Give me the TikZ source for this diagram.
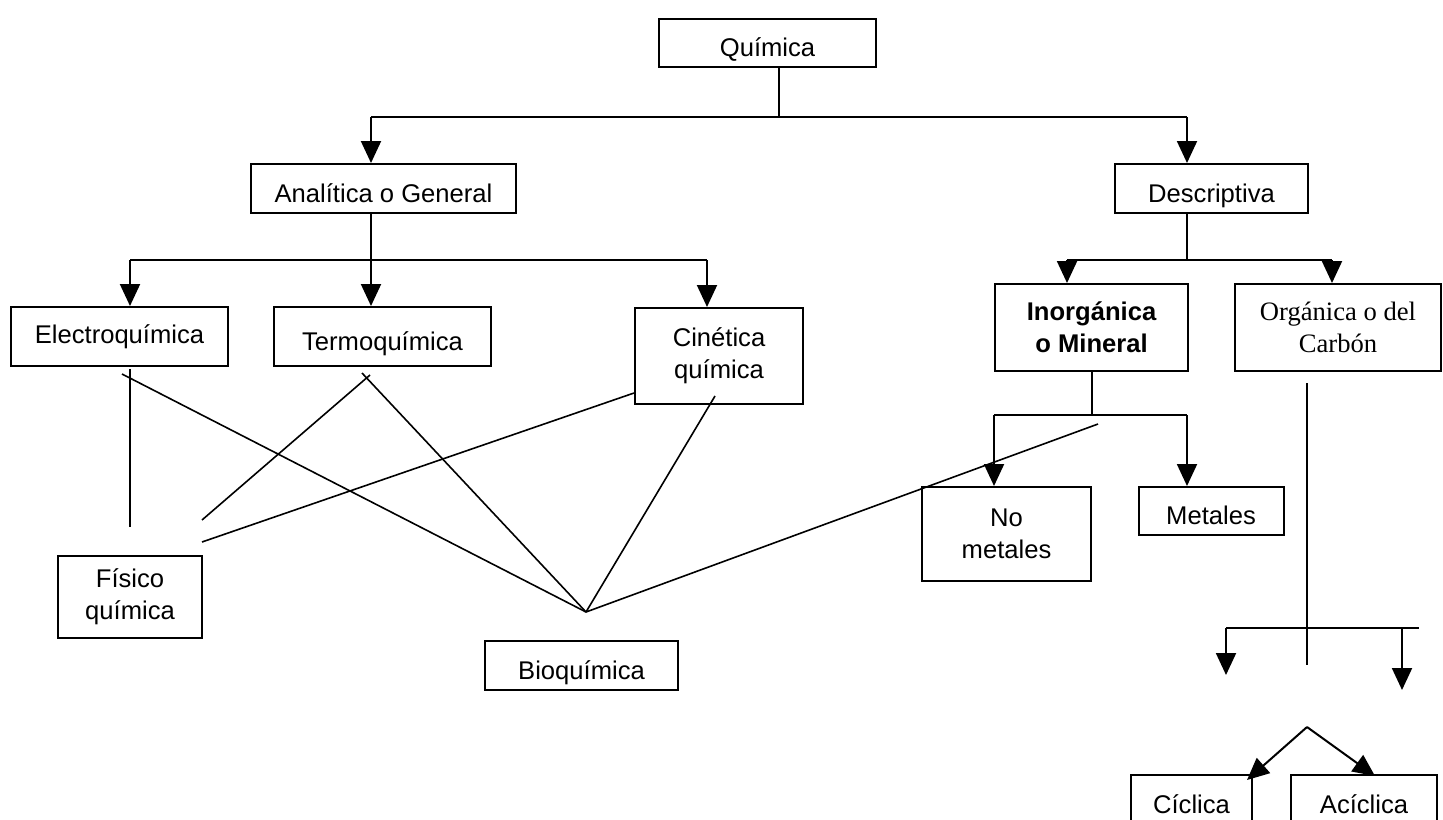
\documentclass[tikz,border=0pt]{standalone}
\usepackage{fontspec}
\setmainfont{Liberation Sans}
\newfontfamily\romana{Liberation Serif}
\usetikzlibrary{arrows.meta}

\begin{document}
\begin{tikzpicture}[x=0.5pt,y=-0.5pt,line width=1pt,
		caja/.style={draw=black,align=center,inner sep=0pt,font=\fontsize{12.8}{16}\selectfont},
		baja/.style={text height=13.6pt,text depth=0pt},
		flecha/.style={-{Triangle[width=10pt,length=11pt]}},
		raya/.style={line width=0.8pt}]
	\useasboundingbox (0,0) rectangle (1443,819);

	% cajas
	\node[caja,baja,minimum width=108.5pt,minimum height=24pt] (quimica) at (767.5,43) {Química};
	\node[caja,baja,minimum width=132.5pt,minimum height=24.5pt] (analitica) at (383.5,188.5) {Analítica o General};
	\node[caja,baja,minimum width=96.5pt,minimum height=24.5pt] (descriptiva) at (1211.5,188.5) {Descriptiva};
	\node[caja,minimum width=108.5pt,minimum height=29.5pt] (electro) at (119.5,336.5) {Electroquímica};
	\node[caja,baja,minimum width=108.5pt,minimum height=29.5pt] (termo) at (382.5,336.5) {Termoquímica};
	\node[caja,minimum width=84pt,minimum height=48pt] (cinetica) at (719,356) {Cinética\\química};
	\node[caja,minimum width=96.5pt,minimum height=43.5pt,font=\fontsize{12.8}{16}\selectfont\bfseries] (inorganica) at (1091.5,327.5) {Inorgánica\\o Mineral};
	\node[caja,minimum width=103pt,minimum height=43.5pt,font=\fontsize{13.3}{16}\romana] (organica) at (1338,327.5) {Orgánica o del\\Carbón};
	\node[caja,minimum width=84.5pt,minimum height=47pt] (nometales) at (1006.5,534) {No\\metales};
	\node[caja,baja,minimum width=72.5pt,minimum height=24pt] (metales) at (1211,511) {Metales};
	\node[caja,minimum width=72pt,minimum height=41pt] (fisico) at (130,597) {Físico\\química};
	\node[caja,baja,minimum width=96.5pt,minimum height=24.5pt] (bioquimica) at (581.5,665.5) {Bioquímica};
	\node[caja,baja,minimum width=60.5pt,minimum height=25pt] (ciclica) at (1191.5,800) {Cíclica};
	\node[caja,baja,minimum width=73pt,minimum height=25pt] (aciclica) at (1364,800) {Acíclica};

	% ramas con flecha
	\begin{scope}
		\coordinate (q0) at (779,117);
		\coordinate (qL) at (371,117);
		\coordinate (qR) at (1187,117);
		\path[draw=black] (q0 |- quimica.south)--(q0);
		\path[draw=black] (qL)--(qR);
		\path[draw=black,flecha] (qL)--(qL |- analitica.north);
		\path[draw=black,flecha] (qR)--(qR |- descriptiva.north);

		\coordinate (aL) at (130,260);
		\coordinate (aR) at (707,260);
		\path[draw=black] (aL)--(aR);
		\path[draw=black,flecha] (qL |- analitica.south)--(qL |- termo.north);
		\path[draw=black,flecha] (aL)--(aL |- electro.north);
		\path[draw=black,flecha] (aR)--(aR |- cinetica.north);

		\coordinate (dL) at (1067,260);
		\coordinate (dR) at (1332,260);
		\path[draw=black] (qR |- descriptiva.south)--(qR |- dL);
		\path[draw=black] (dL)--(dR);
		\path[draw=black,flecha] (dL)--(dL |- inorganica.north);
		\path[draw=black,flecha] (dR)--(dR |- organica.north);

		\coordinate (iL) at (994,415);
		\coordinate (iR) at (1187,415);
		\path[draw=black] (inorganica.south)--(inorganica.south |- iL);
		\path[draw=black] (iL)--(iR);
		\path[draw=black,flecha] (iL)--(iL |- nometales.north);
		\path[draw=black,flecha] (iR)--(iR |- metales.north);
	\end{scope}

	\begin{scope}
		\coordinate (o1) at (1307,383);
		\coordinate (o2) at (1307,665);
		\coordinate (oL) at (1226,628);
		\coordinate (oR) at (1419,628);
		\coordinate (oM) at (1402,628);
		\coordinate (oF1) at (1226,675);
		\coordinate (oF2) at (1402,690);
		\coordinate (ov) at (1307,727);
		\coordinate (cF) at (1247,780);
		\coordinate (aF) at (1375,776);
		\path[draw=black] (o1)--(o2);
		\path[draw=black] (oL)--(oR);
		\path[draw=black,flecha] (oL)--(oF1);
		\path[draw=black,flecha] (oM)--(oF2);
		\path[draw=black,flecha] (ov)--(cF);
		\path[draw=black,flecha] (ov)--(aF);
	\end{scope}

	% lineas cruzadas
	\begin{scope}[raya]
		\coordinate (b0) at (586,612);
		\coordinate (e1) at (122,374);
		\coordinate (e2) at (130,369);
		\coordinate (t1) at (362,373);
		\coordinate (t2) at (370,375);
		\coordinate (c1) at (715,396);
		\coordinate (n1) at (1098,424);
		\coordinate (f1) at (130,527);
		\coordinate (f2) at (202,520);
		\coordinate (f3) at (202,542);
		\draw (e2)--(f1);
		\draw (e1)--(b0);
		\draw (t1)--(b0);
		\draw (t2)--(f2);
		\draw ([yshift=6pt]cinetica.south west)--(f3);
		\draw (c1)--(b0);
		\draw (b0)--(n1);
	\end{scope}
\end{tikzpicture}
\end{document}
